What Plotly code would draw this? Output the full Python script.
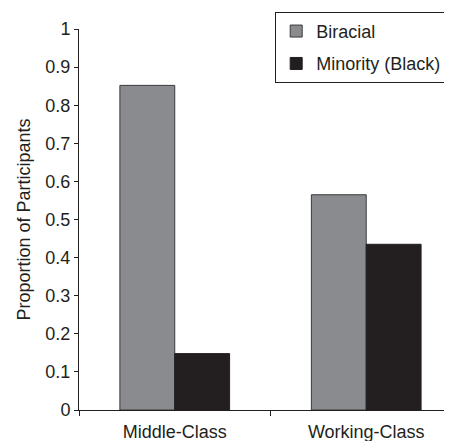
import plotly.graph_objects as go

categories = ["Middle-Class", "Working-Class"]
biracial = [0.852, 0.565]
minority = [0.148, 0.435]
y_ticks = [0, 0.1, 0.2, 0.3, 0.4, 0.5, 0.6, 0.7, 0.8, 0.9, 1]
y_tick_labels = ["0", "0.1", "0.2", "0.3", "0.4", "0.5", "0.6", "0.7", "0.8", "0.9", "1"]

font = "Liberation Sans, Arial, sans-serif"

fig = go.Figure()
fig.add_trace(go.Bar(
    x=categories, y=biracial, name="Biracial", legendgroup="a",
    marker=dict(color="#8a8b8f", line=dict(color="#3a3a3a", width=1)),
))
fig.add_trace(go.Bar(
    x=categories, y=minority, name="Minority (Black)", legendgroup="b",
    marker=dict(color="#231f20", line=dict(color="#231f20", width=1)),
))

# page body adds an 8px offset; compensate in size and margins
fig.update_layout(
    width=444, height=433,
    margin=dict(l=71, r=0, t=21, b=31),
    paper_bgcolor="white", plot_bgcolor="white",
    font=dict(family=font, size=18, color="#231f20"),
    barmode="group", bargap=0.427, bargroupgap=0,
    showlegend=True,
    legend=dict(
        x=0.526, y=1.045, xanchor="left", yanchor="top",
        bordercolor="#231f20", borderwidth=1, bgcolor="white",
        font=dict(size=18), tracegroupgap=6,
        itemwidth=30,
    ),
    xaxis=dict(
        type="category", range=[-0.5, 1.448],
        showline=True, linecolor="#231f20", linewidth=1,
        ticks="outside", tickson="boundaries", ticklen=5, tickcolor="#231f20",
        showgrid=False, zeroline=False,
        tickfont=dict(size=18), ticklabelstandoff=5,
    ),
    yaxis=dict(
        range=[0, 1], tickvals=y_ticks, ticktext=y_tick_labels,
        showline=True, linecolor="#231f20", linewidth=1,
        ticks="outside", ticklen=4, tickcolor="#231f20",
        showgrid=False, zeroline=False,
        tickfont=dict(size=18),
        title=dict(text="Proportion of Participants", font=dict(size=18), standoff=10),
    ),
)

fig.write_html("out.html")
